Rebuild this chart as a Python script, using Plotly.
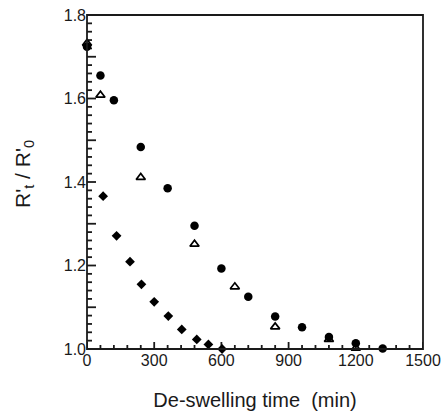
import plotly.graph_objects as go

# Data
circle_t = [0, 60, 120, 240, 360, 480, 600, 720, 840, 960, 1080, 1200, 1320]
circle_r = [1.724, 1.655, 1.596, 1.484, 1.385, 1.295, 1.193, 1.125, 1.078, 1.052, 1.029, 1.014, 1.001]

tri_t = [0, 60, 240, 480, 660, 840, 1080, 1200]
tri_r = [1.732, 1.608, 1.411, 1.251, 1.149, 1.053, 1.023, 1.002]

dia_t = [72, 132, 192, 243, 300, 363, 423, 490, 542, 603]
dia_r = [1.366, 1.271, 1.209, 1.155, 1.113, 1.079, 1.047, 1.023, 1.011, 1.000]

# Tick positions and labels
x_label_ticks = [0, 300, 600, 900, 1200, 1500]
x_label_text = ["0", "300", "600", "900", "1200", "1500"]
x_minor_ticks = list(range(0, 1501, 60))
y_label_ticks = [1.0, 1.2, 1.4, 1.6, 1.8]
y_label_text = ["1.0", "1.2", "1.4", "1.6", "1.8"]
y_mid_ticks = [1.1, 1.3, 1.5, 1.7]
y_minor_ticks = [round(1.0 + 0.02 * i, 2) for i in range(41)]

W, H = 443, 414
ML, MR, MT, MB = 87, 20, 15, 65
XR = [0, 1500]
YR = [1.0, 1.8]
ink = "#1a1a1a"
tw = 1.8
font = "Liberation Sans, Arial, sans-serif"

# pixel -> data unit conversion for tick lengths
x_per_px = (XR[1] - XR[0]) / (W - ML - MR)
y_per_px = (YR[1] - YR[0]) / (H - MT - MB)

tick_x, tick_y = [], []
for v in x_minor_ticks:
    L = (7 if v in x_label_ticks else 4) * y_per_px
    tick_x += [v, v, None]
    tick_y += [YR[0], YR[0] + L, None]
for v in y_minor_ticks:
    L = (9 if (v in y_label_ticks or v in y_mid_ticks) else 5) * x_per_px
    tick_x += [XR[0], XR[0] + L, None]
    tick_y += [v, v, None]

fig = go.Figure()
fig.add_trace(go.Scatter(x=tick_x, y=tick_y, mode="lines", connectgaps=False,
                         line=dict(color=ink, width=tw), hoverinfo="skip"))
fig.add_trace(go.Scatter(x=circle_t, y=circle_r, mode="markers",
                         marker=dict(symbol="circle", size=8.5, color="black"),
                         cliponaxis=False))
fig.add_trace(go.Scatter(x=tri_t, y=tri_r, mode="markers",
                         marker=dict(symbol="triangle-up-open", size=8, color="black",
                                     line=dict(width=1.7, color="black")),
                         cliponaxis=False))
fig.add_trace(go.Scatter(x=dia_t, y=dia_r, mode="markers",
                         marker=dict(symbol="diamond", size=7.5, color="black"),
                         cliponaxis=False))

fig.update_layout(
    width=W, height=H,
    margin=dict(l=ML, r=MR, t=MT, b=MB),
    paper_bgcolor="white", plot_bgcolor="white",
    showlegend=False,
    font=dict(family=font, size=16, color=ink),
    xaxis=dict(range=XR, tickmode="array", tickvals=x_label_ticks, ticktext=x_label_text,
               ticks="", showline=False, showgrid=False, zeroline=False, automargin=False,
               ticklabeloverflow="allow",
               title=dict(text="De-swelling time\u00a0\u00a0(min)", standoff=24, font=dict(size=20))),
    yaxis=dict(range=YR, tickmode="array", tickvals=y_label_ticks, ticktext=y_label_text,
               ticks="", showline=False, showgrid=False, zeroline=False, automargin=False,
               ticklabeloverflow="allow"),
    shapes=[dict(type="rect", xref="paper", yref="paper", x0=0, y0=0, x1=1, y1=1,
                 line=dict(color=ink, width=tw), layer="above")],
    annotations=[dict(text="R'<sub>t</sub> / R'<sub>0</sub>", xref="paper", yref="paper",
                      x=0, y=0.5, xshift=-63, yshift=8, textangle=-90, showarrow=False,
                      xanchor="center", yanchor="middle", font=dict(size=21, color=ink))],
)

fig.write_html("out.html", post_script="document.body.style.margin='0px';",
               config={"displayModeBar": False})
